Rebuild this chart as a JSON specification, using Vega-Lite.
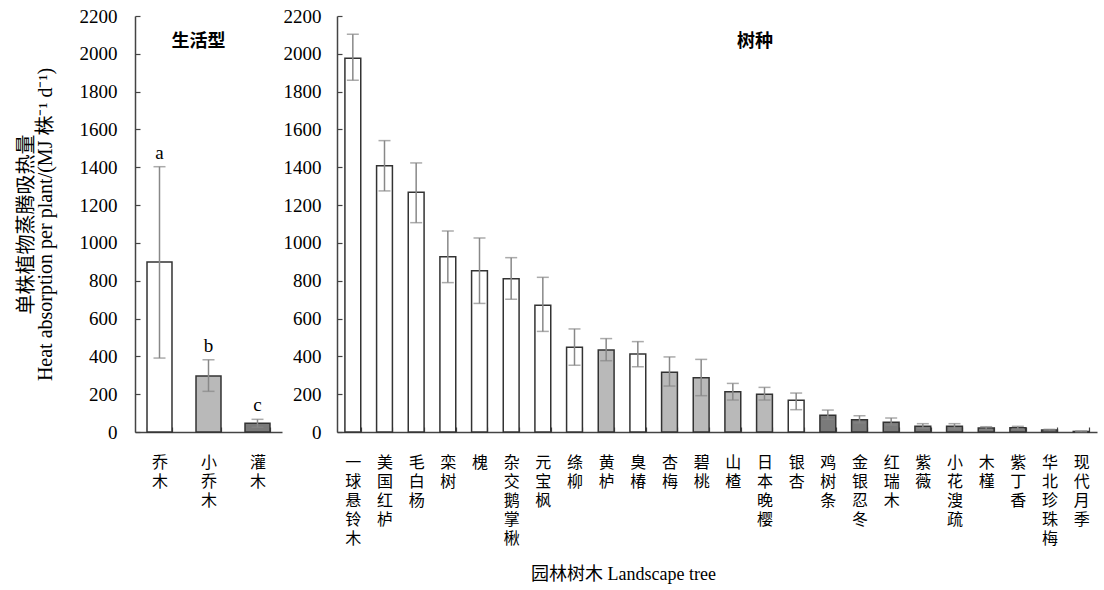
{
  "$schema": "https://vega.github.io/schema/vega-lite/v6.json",
  "padding": {"left": 16, "top": 7, "right": 1, "bottom": 5},
  "background": "white",
  "datasets": {
    "life": [
      {"name": "乔木", "type": "乔木", "value": 899, "lo": 391, "hi": 1403, "letter": "a"},
      {"name": "小乔木", "type": "小乔木", "value": 296, "lo": 215, "hi": 382, "letter": "b"},
      {"name": "灌木", "type": "灌木", "value": 46, "lo": 25, "hi": 67, "letter": "c"}
    ],
    "species": [
      {"name": "一球悬铃木", "type": "乔木", "value": 1976, "lo": 1860, "hi": 2103},
      {"name": "美国红栌", "type": "乔木", "value": 1408, "lo": 1275, "hi": 1541},
      {"name": "毛白杨", "type": "乔木", "value": 1268, "lo": 1107, "hi": 1423},
      {"name": "栾树", "type": "乔木", "value": 927, "lo": 790, "hi": 1063},
      {"name": "槐", "type": "乔木", "value": 853, "lo": 680, "hi": 1026},
      {"name": "杂交鹅掌楸", "type": "乔木", "value": 811, "lo": 702, "hi": 922},
      {"name": "元宝枫", "type": "乔木", "value": 670, "lo": 532, "hi": 818},
      {"name": "绦柳", "type": "乔木", "value": 448, "lo": 353, "hi": 545},
      {"name": "黄栌", "type": "小乔木", "value": 434, "lo": 377, "hi": 494},
      {"name": "臭椿", "type": "乔木", "value": 412, "lo": 345, "hi": 478},
      {"name": "杏梅", "type": "小乔木", "value": 316, "lo": 243, "hi": 397},
      {"name": "碧桃", "type": "小乔木", "value": 287, "lo": 192, "hi": 384},
      {"name": "山楂", "type": "小乔木", "value": 213, "lo": 169, "hi": 257},
      {"name": "日本晚樱", "type": "小乔木", "value": 199, "lo": 169, "hi": 236},
      {"name": "银杏", "type": "乔木", "value": 168, "lo": 118, "hi": 206},
      {"name": "鸡树条", "type": "灌木", "value": 88, "lo": 67, "hi": 116},
      {"name": "金银忍冬", "type": "灌木", "value": 65, "lo": 48, "hi": 86},
      {"name": "红瑞木", "type": "灌木", "value": 51, "lo": 37, "hi": 74},
      {"name": "紫薇", "type": "灌木", "value": 30, "lo": 20, "hi": 44},
      {"name": "小花溲疏", "type": "灌木", "value": 30, "lo": 16, "hi": 44},
      {"name": "木槿", "type": "灌木", "value": 21, "lo": 14, "hi": 28},
      {"name": "紫丁香", "type": "灌木", "value": 23, "lo": 16, "hi": 30},
      {"name": "华北珍珠梅", "type": "灌木", "value": 11, "lo": 8, "hi": 14},
      {"name": "现代月季", "type": "灌木", "value": 3, "lo": 1, "hi": 5}
    ]
  },
  "title": {
    "text": "园林树木 Landscape tree",
    "orient": "bottom",
    "anchor": "middle",
    "fontSize": 18,
    "fontWeight": "normal",
    "font": "Liberation Serif, Noto Sans CJK SC",
    "color": "black",
    "offset": 20,
    "dx": 67
  },
  "spacing": 1,
  "hconcat": [
    {
      "width": 147,
      "height": 416,
      "title": {"text": "生活型", "offset": -44, "dx": -10, "fontSize": 18, "fontWeight": "bold", "font": "Noto Sans CJK SC", "color": "black"},
      "data": {"name": "life"},
      "encoding": {
        "x": {
          "field": "name", "type": "nominal", "sort": null,
          "scale": {"paddingInner": 0.49, "paddingOuter": 0.245},
          "axis": {"title": null, "labelAngle": 0, "labelExpr": "split(datum.label, '')", "labelAlign": "center", "labelBaseline": "top", "labelLineHeight": 19, "labelPadding": 27, "tickBand": "extent", "tickSize": -5, "labelFontSize": 16, "labelFont": "Noto Sans CJK SC"}
        }
      },
      "layer": [
        {
          "mark": {"type": "bar", "stroke": "#333333", "strokeWidth": 1.5},
          "encoding": {
            "y": {"field": "value", "type": "quantitative", "scale": {"domain": [0, 2200], "nice": false},
              "axis": {"values": [0,200,400,600,800,1000,1200,1400,1600,1800,2000,2200], "format": "d", "grid": false, "tickSize": -5, "labelPadding": 23,
                "title": ["单株植物蒸腾吸热量", "Heat absorption per plant/(MJ 株⁻¹ d⁻¹)"], "titleLineHeight": 19, "titleFontSize": 20, "titlePadding": 24}},
            "fill": {"field": "type", "type": "nominal", "scale": {"domain": ["乔木", "小乔木", "灌木"], "range": ["#ffffff", "#b9b9b9", "#7a7a7a"]}, "legend": null}
          }
        },
        {
          "mark": {"type": "rule", "color": "#888888", "strokeWidth": 1.5},
          "encoding": {"y": {"field": "lo", "type": "quantitative",
              "axis": {"values": [0,200,400,600,800,1000,1200,1400,1600,1800,2000,2200], "format": "d", "grid": false, "tickSize": -5, "labelPadding": 23,
                "title": ["单株植物蒸腾吸热量", "Heat absorption per plant/(MJ 株⁻¹ d⁻¹)"], "titleLineHeight": 19, "titleFontSize": 20, "titlePadding": 24}}, "y2": {"field": "hi"}}
        },
        {
          "mark": {"type": "tick", "color": "#888888", "thickness": 1.5, "size": 12},
          "encoding": {"y": {"field": "lo", "type": "quantitative",
              "axis": {"values": [0,200,400,600,800,1000,1200,1400,1600,1800,2000,2200], "format": "d", "grid": false, "tickSize": -5, "labelPadding": 23,
                "title": ["单株植物蒸腾吸热量", "Heat absorption per plant/(MJ 株⁻¹ d⁻¹)"], "titleLineHeight": 19, "titleFontSize": 20, "titlePadding": 24}}}
        },
        {
          "mark": {"type": "tick", "color": "#888888", "thickness": 1.5, "size": 12},
          "encoding": {"y": {"field": "hi", "type": "quantitative",
              "axis": {"values": [0,200,400,600,800,1000,1200,1400,1600,1800,2000,2200], "format": "d", "grid": false, "tickSize": -5, "labelPadding": 23,
                "title": ["单株植物蒸腾吸热量", "Heat absorption per plant/(MJ 株⁻¹ d⁻¹)"], "titleLineHeight": 19, "titleFontSize": 20, "titlePadding": 24}}}
        },
        {
          "mark": {"type": "text", "baseline": "alphabetic", "dy": -8, "fontSize": 19, "font": "Liberation Serif", "color": "black"},
          "encoding": {"y": {"field": "hi", "type": "quantitative",
              "axis": {"values": [0,200,400,600,800,1000,1200,1400,1600,1800,2000,2200], "format": "d", "grid": false, "tickSize": -5, "labelPadding": 23,
                "title": ["单株植物蒸腾吸热量", "Heat absorption per plant/(MJ 株⁻¹ d⁻¹)"], "titleLineHeight": 19, "titleFontSize": 20, "titlePadding": 24}}, "text": {"field": "letter"}}
        }
      ]
    },
    {
      "width": 760,
      "height": 416,
      "title": {"text": "树种", "offset": -44, "dx": 38, "fontSize": 18, "fontWeight": "bold", "font": "Noto Sans CJK SC", "color": "black"},
      "data": {"name": "species"},
      "encoding": {
        "x": {
          "field": "name", "type": "nominal", "sort": null,
          "scale": {"paddingInner": 0.5, "paddingOuter": 0.25},
          "axis": {"title": null, "labelAngle": 0, "labelExpr": "split(datum.label, '')", "labelAlign": "center", "labelBaseline": "top", "labelLineHeight": 19, "labelPadding": 27, "tickBand": "extent", "tickSize": -5, "labelFontSize": 16, "labelFont": "Noto Sans CJK SC"}
        }
      },
      "layer": [
        {
          "mark": {"type": "bar", "stroke": "#333333", "strokeWidth": 1.5},
          "encoding": {
            "y": {"field": "value", "type": "quantitative", "scale": {"domain": [0, 2200], "nice": false},
              "axis": {"values": [0,200,400,600,800,1000,1200,1400,1600,1800,2000,2200], "format": "d", "grid": false, "tickSize": -5, "labelPadding": 21, "title": null}},
            "fill": {"field": "type", "type": "nominal", "scale": {"domain": ["乔木", "小乔木", "灌木"], "range": ["#ffffff", "#b9b9b9", "#7a7a7a"]}, "legend": null}
          }
        },
        {
          "mark": {"type": "rule", "color": "#888888", "strokeWidth": 1.5},
          "encoding": {"y": {"field": "lo", "type": "quantitative",
              "axis": {"values": [0,200,400,600,800,1000,1200,1400,1600,1800,2000,2200], "format": "d", "grid": false, "tickSize": -5, "labelPadding": 21, "title": null}}, "y2": {"field": "hi"}}
        },
        {
          "mark": {"type": "tick", "color": "#888888", "thickness": 1.5, "size": 12},
          "encoding": {"y": {"field": "lo", "type": "quantitative",
              "axis": {"values": [0,200,400,600,800,1000,1200,1400,1600,1800,2000,2200], "format": "d", "grid": false, "tickSize": -5, "labelPadding": 21, "title": null}}}
        },
        {
          "mark": {"type": "tick", "color": "#888888", "thickness": 1.5, "size": 12},
          "encoding": {"y": {"field": "hi", "type": "quantitative",
              "axis": {"values": [0,200,400,600,800,1000,1200,1400,1600,1800,2000,2200], "format": "d", "grid": false, "tickSize": -5, "labelPadding": 21, "title": null}}}
        }
      ]
    }
  ],
  "config": {
    "view": {"stroke": null},
    "axis": {
      "labelFont": "Liberation Serif, Noto Sans CJK SC",
      "labelFontSize": 19,
      "labelColor": "black",
      "titleFont": "Liberation Serif, Noto Sans CJK SC",
      "titleFontSize": 18,
      "titleFontWeight": "normal",
      "titleColor": "black",
      "domainColor": "#444444",
      "domainWidth": 1.5,
      "tickColor": "#444444",
      "tickWidth": 1.2
    }
  }
}
